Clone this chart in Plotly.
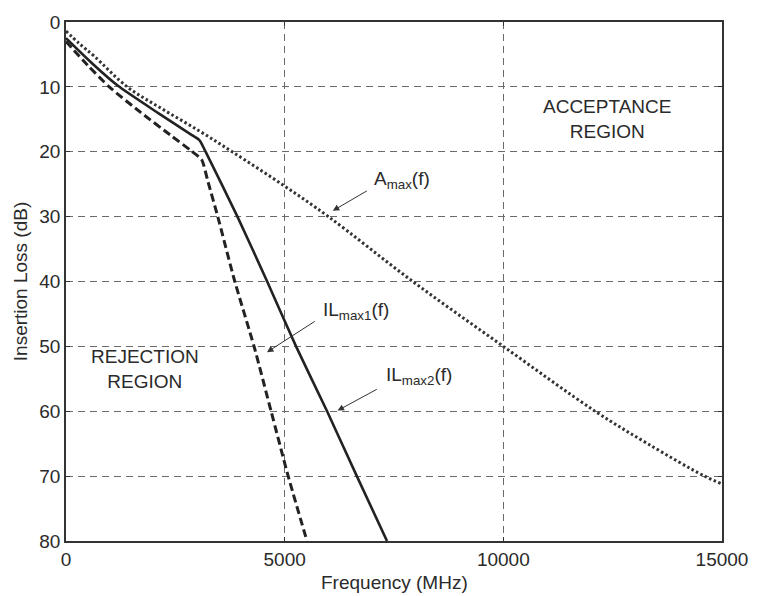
import plotly.graph_objects as go

# ---- data ----
freq_amax = [0, 300, 650, 1400, 2200, 3050, 3800, 5000, 6000, 7930, 10000, 12100, 13300,
             14600, 15000]
amax = [1.4, 3.3, 5.3, 10, 13.4, 16.8, 20, 25.3, 30, 40, 50, 60, 65, 70, 71.2]

freq_il2 = [0, 600, 1180, 2100, 2870, 3050, 3200, 3920, 4600, 5260, 5970, 6650, 7340]
il2 = [2.5, 6.4, 9.8, 14.0, 17.4, 18.2, 20.1, 30, 40, 50, 60, 70, 80]

freq_il1 = [0, 500, 990, 1700, 2420, 2870, 3100, 3250, 3470, 3860, 4300, 4690, 5080, 5510]
il1 = [3.0, 6.7, 10, 13.9, 17.6, 19.9, 21.2, 24.7, 30, 40, 50, 60, 70, 80]

x_ticks = [0, 5000, 10000, 15000]
y_ticks = [0, 10, 20, 30, 40, 50, 60, 70, 80]

FONT = "Liberation Sans, Arial, sans-serif"
TXT = "#2a2a2a"
LINE = "#222222"

fig = go.Figure()
fig.add_trace(go.Scatter(x=freq_amax, y=amax, mode="lines",
                         line=dict(color="#333333", width=3, dash="2.5px,2.5px",
                                   shape="spline", smoothing=1.0),
                         showlegend=False))
fig.add_trace(go.Scatter(x=freq_il2, y=il2, mode="lines",
                         line=dict(color=LINE, width=2.6, shape="spline", smoothing=0.6),
                         showlegend=False))
fig.add_trace(go.Scatter(x=freq_il1, y=il1, mode="lines",
                         line=dict(color=LINE, width=3, dash="8px,4px",
                                   shape="spline", smoothing=0.6),
                         showlegend=False))

def sub(s):
    return "<sub>" + s + "</sub>"

tfont = dict(size=19, color=TXT, family=FONT)
ann = [
    dict(x=12365, y=14.9, xref="x", yref="y", text="ACCEPTANCE<br>REGION",
         showarrow=False, font=tfont),
    dict(x=1802, y=53.5, xref="x", yref="y", text="REJECTION<br>REGION",
         showarrow=False, font=tfont),
    dict(x=6990, y=24.3, xref="x", yref="y", xanchor="left",
         text="A" + sub("max") + "(f)", showarrow=False, font=tfont),
    dict(x=5833, y=44.6, xref="x", yref="y", xanchor="left",
         text="IL" + sub("max1") + "(f)", showarrow=False, font=tfont),
    dict(x=7275, y=54.6, xref="x", yref="y", xanchor="left",
         text="IL" + sub("max2") + "(f)", showarrow=False, font=tfont),
    dict(x=0.5, y=-42 / 525, xref="paper", yref="paper", xanchor="center",
         yanchor="middle", text="Frequency (MHz)", showarrow=False, font=tfont),
    dict(x=-46 / 666, y=0.5, xref="paper", yref="paper", xanchor="center",
         yanchor="middle", textangle=-90, text="Insertion Loss (dB)",
         showarrow=False, font=tfont),
]
# arrows: head (x, y) and tail (ax, ay) in data units
for (hx, hy, tx, ty) in [(6100, 29.1, 6914, 25.9),
                         (4595, 50.9, 5721, 46.0),
                         (6209, 59.9, 7140, 56.5)]:
    ann.append(dict(x=hx, y=hy, ax=tx, ay=ty, xref="x", yref="y", axref="x", ayref="y",
                    text="", showarrow=True, arrowhead=2, arrowsize=1.3, arrowwidth=1,
                    arrowcolor="#333333", standoff=0, startstandoff=0))

fig.update_layout(
    width=760, height=596,
    margin=dict(l=66, r=28, t=16, b=55),
    paper_bgcolor="white", plot_bgcolor="white",
    font=dict(family=FONT, size=19, color=TXT),
    annotations=ann,
)

axis_style = dict(showgrid=True, gridcolor="#6a6a6a", gridwidth=1, griddash="7px,5px",
                  zeroline=False, showline=True, linecolor="#333333", linewidth=1.5,
                  mirror="ticks", ticks="inside", ticklen=4, tickcolor="#333333",
                  tickfont=dict(size=19, color=TXT, family=FONT))
fig.update_xaxes(range=[0, 15000], tickvals=x_ticks, ticktext=[str(v) for v in x_ticks],
                 **axis_style)
fig.update_yaxes(range=[80, 0], tickvals=y_ticks, ticktext=[str(v) for v in y_ticks],
                 **axis_style)

fig.write_html("out.html")
